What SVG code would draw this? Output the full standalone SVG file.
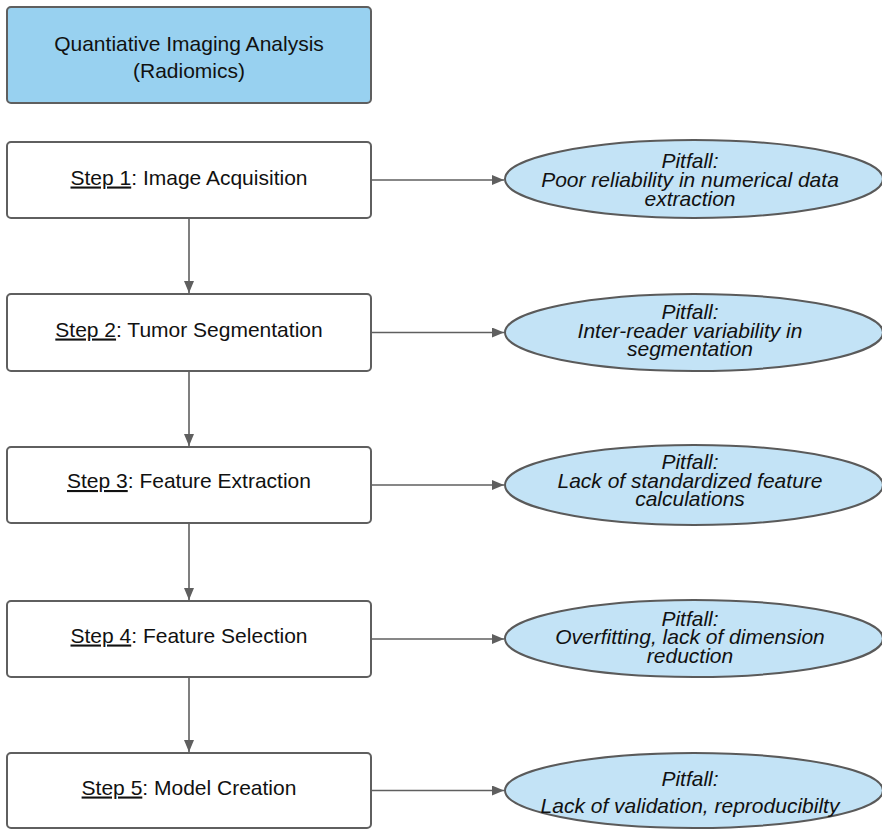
<svg xmlns="http://www.w3.org/2000/svg" width="882" height="830" viewBox="0 0 882 830">
<style>
  .box { fill: #ffffff; stroke: #5f5f5f; stroke-width: 2; }
  .title { fill: #98d1f0; stroke: #5f5f5f; stroke-width: 2; }
  .pit { fill: #c3e3f6; stroke: #5a5a5a; stroke-width: 2; }
  .t { font-family: "Liberation Sans", Arial, sans-serif; font-size: 21px; fill: #111; text-anchor: middle; }
  .i { font-style: italic; }
  .u { text-decoration: underline; }
  .c { stroke: #5f5f5f; stroke-width: 1.6; fill: none; }
</style>
<defs>
  <marker id="ah" viewBox="0 0 12 10" refX="12" refY="5" markerWidth="12" markerHeight="10" markerUnits="userSpaceOnUse" orient="auto">
    <path d="M0,0 L12,5 L0,10 Z" fill="#5f5f5f"/>
  </marker>
</defs>
<rect width="882" height="830" fill="#ffffff"/>

<g id="connectors">
  <line class="c" x1="189" y1="219" x2="189" y2="293" marker-end="url(#ah)"/>
  <line class="c" x1="189" y1="372" x2="189" y2="446" marker-end="url(#ah)"/>
  <line class="c" x1="189" y1="524" x2="189" y2="600" marker-end="url(#ah)"/>
  <line class="c" x1="189" y1="678" x2="189" y2="752" marker-end="url(#ah)"/>
  <line class="c" x1="371" y1="180" x2="504" y2="180" marker-end="url(#ah)"/>
  <line class="c" x1="371" y1="332.5" x2="504" y2="332.5" marker-end="url(#ah)"/>
  <line class="c" x1="371" y1="485" x2="504" y2="485" marker-end="url(#ah)"/>
  <line class="c" x1="371" y1="639" x2="504" y2="639" marker-end="url(#ah)"/>
  <line class="c" x1="371" y1="790.5" x2="504" y2="790.5" marker-end="url(#ah)"/>
</g>

<g id="title">
  <rect class="title" x="7" y="7" width="364" height="96" rx="4"/>
  <text class="t" x="189" y="50.5">Quantiative Imaging Analysis</text>
  <text class="t" x="189" y="78">(Radiomics)</text>
</g>

<g id="step1">
  <rect class="box" x="7" y="142" width="364" height="76" rx="4"/>
  <text class="t" x="189" y="184.5"><tspan class="u">Step 1</tspan>: Image Acquisition</text>
</g>
<g id="step2">
  <rect class="box" x="7" y="294" width="364" height="77" rx="4"/>
  <text class="t" x="189" y="336.5"><tspan class="u">Step 2</tspan>: Tumor Segmentation</text>
</g>
<g id="step3">
  <rect class="box" x="7" y="447" width="364" height="76" rx="4"/>
  <text class="t" x="189" y="488"><tspan class="u">Step 3</tspan>: Feature Extraction</text>
</g>
<g id="step4">
  <rect class="box" x="7" y="601" width="364" height="76" rx="4"/>
  <text class="t" x="189" y="642.5"><tspan class="u">Step 4</tspan>: Feature Selection</text>
</g>
<g id="step5">
  <rect class="box" x="7" y="753" width="364" height="75" rx="4"/>
  <text class="t" x="189" y="794.5"><tspan class="u">Step 5</tspan>: Model Creation</text>
</g>

<g id="pitfall1">
  <ellipse class="pit" cx="694" cy="179" rx="189" ry="39"/>
  <text class="t i" x="690" y="168">Pitfall:</text>
  <text class="t i" x="690" y="186.5">Poor reliability in numerical data</text>
  <text class="t i" x="690" y="205.5">extraction</text>
</g>
<g id="pitfall2">
  <ellipse class="pit" cx="694" cy="332.5" rx="189" ry="38.5"/>
  <text class="t i" x="690" y="319">Pitfall:</text>
  <text class="t i" x="690" y="337.5">Inter-reader variability in</text>
  <text class="t i" x="690" y="356">segmentation</text>
</g>
<g id="pitfall3">
  <ellipse class="pit" cx="694" cy="485" rx="189" ry="40"/>
  <text class="t i" x="690" y="469">Pitfall:</text>
  <text class="t i" x="690" y="487.5">Lack of standardized feature</text>
  <text class="t i" x="690" y="506">calculations</text>
</g>
<g id="pitfall4">
  <ellipse class="pit" cx="694" cy="638.5" rx="189" ry="38.5"/>
  <text class="t i" x="690" y="625.5">Pitfall:</text>
  <text class="t i" x="690" y="644">Overfitting, lack of dimension</text>
  <text class="t i" x="690" y="662.5">reduction</text>
</g>
<g id="pitfall5">
  <ellipse class="pit" cx="694" cy="790.5" rx="189" ry="37.5"/>
  <text class="t i" x="690" y="785.5">Pitfall:</text>
  <text class="t i" x="690" y="812.5">Lack of validation, reproducibilty</text>
</g>
</svg>
